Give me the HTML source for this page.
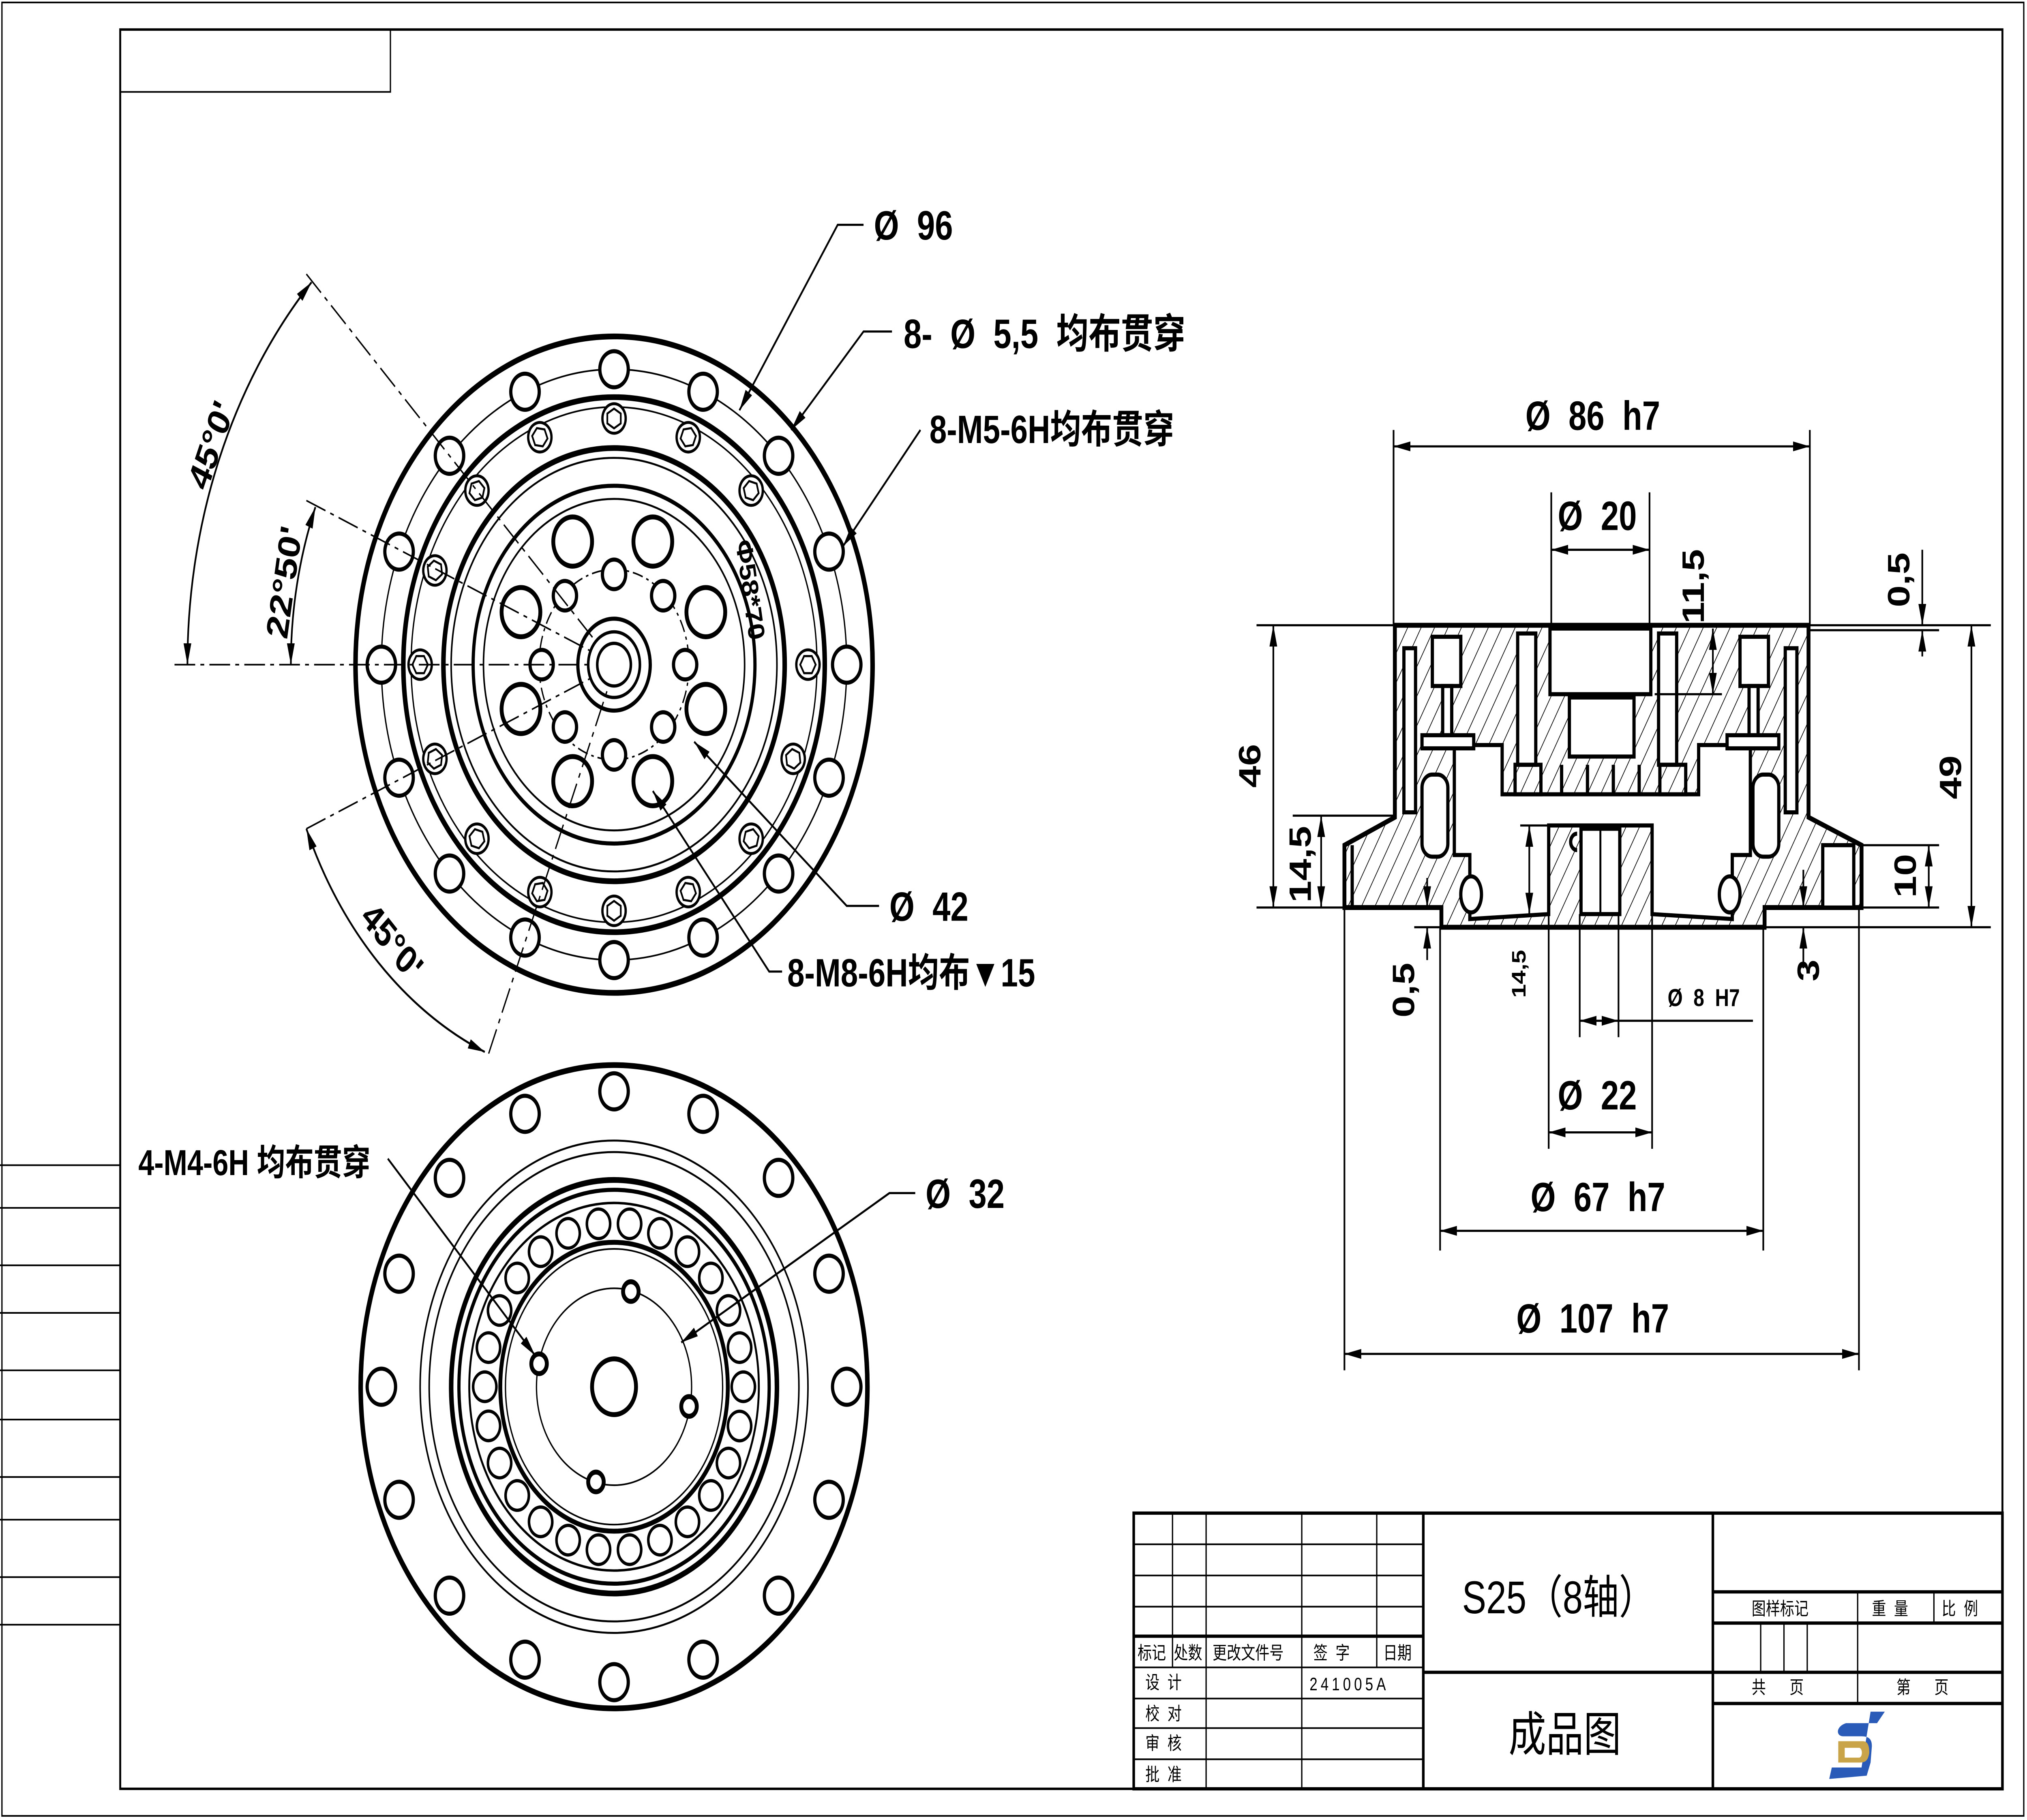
<!DOCTYPE html>
<html><head><meta charset="utf-8"><style>
html,body{margin:0;padding:0;background:#fff;width:100%;height:100%;overflow:hidden;}
svg{display:block;width:100vw;height:100vh;}
.t{font-family:"Liberation Sans","Noto Sans CJK SC",sans-serif;font-weight:bold;fill:#000;}
.c{font-family:"Liberation Sans","Noto Sans CJK SC",sans-serif;fill:#000;}
</style></head><body>
<svg xmlns="http://www.w3.org/2000/svg" viewBox="0 0 1568 1109" preserveAspectRatio="none">
<defs>
<pattern id="h" patternUnits="userSpaceOnUse" width="9" height="9" patternTransform="rotate(30)">
<line x1="0" y1="0" x2="0" y2="9" stroke="#000" stroke-width="1"/></pattern>
<marker id="a" markerUnits="userSpaceOnUse" markerWidth="14" markerHeight="8" refX="13" refY="4" orient="auto-start-reverse">
<path d="M0,1 L13,4 L0,7 Z" fill="#000"/></marker>
<g id="hole"><circle cx="655" cy="405" r="11" fill="#fff" stroke="#000" stroke-width="2.5"/></g>
<g id="hex"><circle cx="625" cy="405" r="9" fill="#fff" stroke="#000" stroke-width="1.8"/><polygon points="631,405 628,410.2 622,410.2 619,405 622,399.8 628,399.8" fill="none" stroke="#000" stroke-width="1.3"/></g>
<g id="hole2"><circle cx="655" cy="845" r="11" fill="#fff" stroke="#000" stroke-width="2.5"/></g>
<g id="ball"><circle cx="575" cy="845" r="9" fill="#fff" stroke="#000" stroke-width="2"/></g>
</defs>
<rect width="1568" height="1109" fill="#fff"/>
<rect x="1.5" y="1.5" width="1564" height="1105" fill="none" stroke="#000" stroke-width="1"/>
<rect x="93" y="18" width="1456" height="1072" fill="none" stroke="#000" stroke-width="1.5"/>
<polyline points="93,56 302,56 302,18" fill="none" stroke="#000" stroke-width="1"/>
<g stroke="#000" stroke-width="1">
<line x1="0" y1="710" x2="93" y2="710"/><line x1="0" y1="736" x2="93" y2="736"/><line x1="0" y1="771" x2="93" y2="771"/><line x1="0" y1="800" x2="93" y2="800"/><line x1="0" y1="835" x2="93" y2="835"/><line x1="0" y1="865" x2="93" y2="865"/><line x1="0" y1="900" x2="93" y2="900"/><line x1="0" y1="926" x2="93" y2="926"/><line x1="0" y1="961" x2="93" y2="961"/><line x1="0" y1="990" x2="93" y2="990"/>
</g>

<g fill="none" stroke="#000">
<circle cx="475" cy="405" r="200" stroke-width="3.5"/>
<circle cx="475" cy="405" r="180" stroke-width="1"/>
<circle cx="475" cy="405" r="163" stroke-width="3.5"/>
<circle cx="475" cy="405" r="157" stroke-width="1"/>
<circle cx="475" cy="405" r="132" stroke-width="3.5"/>
<circle cx="475" cy="405" r="126" stroke-width="1.2"/>
<circle cx="475" cy="405" r="109" stroke-width="2.5"/>
<circle cx="475" cy="405" r="101" stroke-width="1.2"/>
<circle cx="475" cy="405" r="58" stroke-width="1" stroke-dasharray="8,3,2,3"/>
<circle cx="475" cy="405" r="28" stroke-width="2.5"/>
<circle cx="475" cy="405" r="20" stroke-width="2"/>
<circle cx="475" cy="405" r="13" stroke-width="2"/>
</g>
<g>
<use href="#hole"/><use href="#hole" transform="rotate(22.5 475 405)"/><use href="#hole" transform="rotate(45 475 405)"/><use href="#hole" transform="rotate(67.5 475 405)"/><use href="#hole" transform="rotate(90 475 405)"/><use href="#hole" transform="rotate(112.5 475 405)"/><use href="#hole" transform="rotate(135 475 405)"/><use href="#hole" transform="rotate(157.5 475 405)"/><use href="#hole" transform="rotate(180 475 405)"/><use href="#hole" transform="rotate(202.5 475 405)"/><use href="#hole" transform="rotate(225 475 405)"/><use href="#hole" transform="rotate(247.5 475 405)"/><use href="#hole" transform="rotate(270 475 405)"/><use href="#hole" transform="rotate(292.5 475 405)"/><use href="#hole" transform="rotate(315 475 405)"/><use href="#hole" transform="rotate(337.5 475 405)"/>
<use href="#hex"/><use href="#hex" transform="rotate(22.5 475 405)"/><use href="#hex" transform="rotate(45 475 405)"/><use href="#hex" transform="rotate(67.5 475 405)"/><use href="#hex" transform="rotate(90 475 405)"/><use href="#hex" transform="rotate(112.5 475 405)"/><use href="#hex" transform="rotate(135 475 405)"/><use href="#hex" transform="rotate(157.5 475 405)"/><use href="#hex" transform="rotate(180 475 405)"/><use href="#hex" transform="rotate(202.5 475 405)"/><use href="#hex" transform="rotate(225 475 405)"/><use href="#hex" transform="rotate(247.5 475 405)"/><use href="#hex" transform="rotate(270 475 405)"/><use href="#hex" transform="rotate(292.5 475 405)"/><use href="#hex" transform="rotate(315 475 405)"/>
</g>
<g fill="#fff" stroke="#000" stroke-width="3">
<circle cx="443" cy="330" r="15"/><circle cx="505" cy="330" r="15"/><circle cx="403" cy="373" r="15"/><circle cx="546" cy="373" r="15"/><circle cx="403" cy="432" r="15"/><circle cx="546" cy="432" r="15"/><circle cx="443" cy="476" r="15"/><circle cx="505" cy="476" r="15"/>
</g>
<g fill="#fff" stroke="#000" stroke-width="2.5">
<circle cx="475" cy="350" r="9"/><circle cx="437" cy="363" r="9"/><circle cx="513" cy="363" r="9"/><circle cx="419" cy="405" r="9"/><circle cx="530" cy="405" r="9"/><circle cx="437" cy="443" r="9"/><circle cx="513" cy="443" r="9"/><circle cx="475" cy="460" r="9"/>
</g>
<text class="t" x="0" y="0" font-size="18" transform="translate(569,330) rotate(80)">Φ58*70</text>
<g stroke="#000" stroke-width="1" stroke-dasharray="16,4,3,4" fill="none">
<line x1="135" y1="405" x2="455" y2="405"/>
<line x1="237" y1="167" x2="460" y2="390"/>
<line x1="237" y1="305" x2="460" y2="398"/>
<line x1="237" y1="505" x2="460" y2="412"/>
<line x1="378" y1="642" x2="470" y2="420"/>
</g>
<g stroke="#000" stroke-width="1.3" fill="none">
<path d="M145,405 A330,330 0 0 1 241,172" marker-start="url(#a)" marker-end="url(#a)"/>
<path d="M225,405 A250,250 0 0 1 244,309" marker-start="url(#a)" marker-end="url(#a)"/>
<path d="M237,505 A257,257 0 0 0 375,641" marker-start="url(#a)" marker-end="url(#a)"/>
</g>
<text class="t" font-size="24" transform="translate(160,300) rotate(-67)">45°0'</text>
<text class="t" font-size="24" transform="translate(222,390) rotate(-80)">22°50'</text>
<text class="t" font-size="24" transform="translate(278,560) rotate(45)">45°0'</text>
<g stroke="#000" stroke-width="1.3" fill="none">
<polyline points="668,137 648,137 572,250" marker-end="url(#a)"/>
<polyline points="690,202 668,202 612,262" marker-end="url(#a)"/>
<line x1="712" y1="262" x2="652" y2="333" marker-end="url(#a)"/>
<polyline points="680,552 655,552 537,452" marker-end="url(#a)"/>
<polyline points="605,592 595,592 505,482" marker-end="url(#a)"/>
</g>
<text class="t" x="676" y="146" font-size="25">Ø&#160;&#160;96</text>
<text class="t" x="699" y="212" font-size="25">8-&#160;&#160;Ø&#160;&#160;5,5&#160;&#160;均布贯穿</text>
<text class="t" x="719" y="270" font-size="24">8-M5-6H均布贯穿</text>
<text class="t" x="688" y="561" font-size="25">Ø&#160;&#160;42</text>
<text class="t" x="609" y="601" font-size="24">8-M8-6H均布▼15</text>

<g fill="none" stroke="#000">
<circle cx="475" cy="845" r="196" stroke-width="3.5"/>
<circle cx="475" cy="845" r="150" stroke-width="1.2"/>
<circle cx="475" cy="845" r="143" stroke-width="1.2"/>
<circle cx="475" cy="845" r="126" stroke-width="3.5"/>
<circle cx="475" cy="845" r="120" stroke-width="2.5"/>
<circle cx="475" cy="845" r="112" stroke-width="1.5"/>
<circle cx="475" cy="845" r="88" stroke-width="3"/>
<circle cx="475" cy="845" r="84" stroke-width="1"/>
<circle cx="475" cy="845" r="60" stroke-width="1"/>
<circle cx="475" cy="845" r="17" stroke-width="3"/>
</g>
<g>
<use href="#hole2"/><use href="#hole2" transform="rotate(22.5 475 845)"/><use href="#hole2" transform="rotate(45 475 845)"/><use href="#hole2" transform="rotate(67.5 475 845)"/><use href="#hole2" transform="rotate(90 475 845)"/><use href="#hole2" transform="rotate(112.5 475 845)"/><use href="#hole2" transform="rotate(135 475 845)"/><use href="#hole2" transform="rotate(157.5 475 845)"/><use href="#hole2" transform="rotate(180 475 845)"/><use href="#hole2" transform="rotate(202.5 475 845)"/><use href="#hole2" transform="rotate(225 475 845)"/><use href="#hole2" transform="rotate(247.5 475 845)"/><use href="#hole2" transform="rotate(270 475 845)"/><use href="#hole2" transform="rotate(292.5 475 845)"/><use href="#hole2" transform="rotate(315 475 845)"/><use href="#hole2" transform="rotate(337.5 475 845)"/>
<use href="#ball"/><use href="#ball" transform="rotate(13.85 475 845)"/><use href="#ball" transform="rotate(27.7 475 845)"/><use href="#ball" transform="rotate(41.5 475 845)"/><use href="#ball" transform="rotate(55.4 475 845)"/><use href="#ball" transform="rotate(69.2 475 845)"/><use href="#ball" transform="rotate(83.1 475 845)"/><use href="#ball" transform="rotate(96.9 475 845)"/><use href="#ball" transform="rotate(110.8 475 845)"/><use href="#ball" transform="rotate(124.6 475 845)"/><use href="#ball" transform="rotate(138.5 475 845)"/><use href="#ball" transform="rotate(152.3 475 845)"/><use href="#ball" transform="rotate(166.2 475 845)"/><use href="#ball" transform="rotate(180 475 845)"/><use href="#ball" transform="rotate(193.8 475 845)"/><use href="#ball" transform="rotate(207.7 475 845)"/><use href="#ball" transform="rotate(221.5 475 845)"/><use href="#ball" transform="rotate(235.4 475 845)"/><use href="#ball" transform="rotate(249.2 475 845)"/><use href="#ball" transform="rotate(263.1 475 845)"/><use href="#ball" transform="rotate(276.9 475 845)"/><use href="#ball" transform="rotate(290.8 475 845)"/><use href="#ball" transform="rotate(304.6 475 845)"/><use href="#ball" transform="rotate(318.5 475 845)"/><use href="#ball" transform="rotate(332.3 475 845)"/><use href="#ball" transform="rotate(346.2 475 845)"/>
</g>
<g fill="#fff" stroke="#000" stroke-width="3">
<circle cx="488" cy="787" r="6"/><circle cx="417" cy="831" r="6"/><circle cx="533" cy="857" r="6"/><circle cx="461" cy="903" r="6"/>
</g>
<g stroke="#000" stroke-width="1.3" fill="none">
<line x1="300" y1="706" x2="414" y2="826" marker-end="url(#a)"/>
<polyline points="708,727 688,727 527,818" marker-end="url(#a)"/>
</g>
<text class="t" x="107" y="716" font-size="22">4-M4-6H 均布贯穿</text>
<text class="t" x="716" y="736" font-size="25">Ø&#160;&#160;32</text>

<polygon points="1079,381 1399,381 1399,498 1440,515 1440,553 1365,553 1365,565 1115,565 1115,553 1040,553 1040,515 1079,498" fill="url(#h)" stroke="#000" stroke-width="3"/>
<g fill="#fff" stroke="#000" stroke-width="2.5">
<rect x="1199" y="383" width="78" height="40"/>
<rect x="1214" y="425" width="50" height="36"/>
<polygon points="1125,454 1162,454 1162,484 1314,484 1314,454 1354,454 1354,521 1340,521 1340,560 1278,557 1278,503 1198,503 1198,557 1137,560 1137,521 1125,521"/>
<rect x="1223" y="505" width="30" height="52" />
<rect x="1086" y="395" width="9" height="100"/><rect x="1381" y="395" width="9" height="100"/>
<rect x="1108" y="388" width="22" height="30"/><rect x="1346" y="388" width="22" height="30"/>
<rect x="1116" y="418" width="7" height="30"/><rect x="1353" y="418" width="7" height="30"/>
<rect x="1100" y="448" width="40" height="8"/><rect x="1336" y="448" width="40" height="8"/>
<rect x="1174" y="386" width="14" height="80"/><rect x="1283" y="386" width="14" height="80"/>
<rect x="1410" y="515" width="24" height="38"/>
<rect x="1100" y="472" width="20" height="50" rx="8"/><rect x="1356" y="472" width="20" height="50" rx="8"/>
</g>
<g fill="none" stroke="#000" stroke-width="2.5">
<rect x="1172" y="466" width="20" height="18"/><rect x="1284" y="466" width="20" height="18"/>
<line x1="1208" y1="466" x2="1208" y2="484"/><line x1="1268" y1="466" x2="1268" y2="484"/>
<line x1="1228" y1="466" x2="1228" y2="484"/><line x1="1248" y1="466" x2="1248" y2="484"/>
<ellipse cx="1138" cy="545" rx="8" ry="11" fill="#fff"/><ellipse cx="1338" cy="545" rx="8" ry="11" fill="#fff"/>
<line x1="1046" y1="515" x2="1046" y2="553"/><line x1="1238" y1="505" x2="1238" y2="557" stroke-width="1.5"/>
<path d="M1220,508 a5,5 0 1 0 0,10"/>
</g>
<g stroke="#000" stroke-width="1.3" fill="none">
<line x1="972" y1="381" x2="1079" y2="381"/><line x1="1399" y1="381" x2="1540" y2="381"/>
<line x1="1399" y1="384" x2="1500" y2="384"/>
<line x1="972" y1="553" x2="1040" y2="553"/><line x1="1440" y1="553" x2="1500" y2="553"/>
<line x1="1365" y1="565" x2="1540" y2="565"/>
<line x1="1000" y1="497" x2="1079" y2="497"/><line x1="1440" y1="515" x2="1500" y2="515"/>
<line x1="1078" y1="262" x2="1078" y2="381"/><line x1="1400" y1="262" x2="1400" y2="381"/>
<line x1="1078" y1="272" x2="1400" y2="272" marker-start="url(#a)" marker-end="url(#a)"/>
<line x1="1200" y1="300" x2="1200" y2="383"/><line x1="1276" y1="300" x2="1276" y2="383"/>
<line x1="1200" y1="335" x2="1276" y2="335" marker-start="url(#a)" marker-end="url(#a)"/>
<line x1="1280" y1="423" x2="1332" y2="423"/>
<line x1="1325" y1="383" x2="1325" y2="423" marker-start="url(#a)" marker-end="url(#a)"/>
<line x1="1487" y1="335" x2="1487" y2="381" marker-end="url(#a)"/>
<line x1="1487" y1="400" x2="1487" y2="384" marker-end="url(#a)"/>
<line x1="985" y1="381" x2="985" y2="553" marker-start="url(#a)" marker-end="url(#a)"/>
<line x1="1525" y1="381" x2="1525" y2="565" marker-start="url(#a)" marker-end="url(#a)"/>
<line x1="1022" y1="497" x2="1022" y2="553" marker-start="url(#a)" marker-end="url(#a)"/>
<line x1="1492" y1="515" x2="1492" y2="553" marker-start="url(#a)" marker-end="url(#a)"/>
<line x1="1104" y1="535" x2="1104" y2="553" marker-end="url(#a)"/>
<line x1="1104" y1="585" x2="1104" y2="565" marker-end="url(#a)"/>
<line x1="1094" y1="553" x2="1115" y2="553"/><line x1="1094" y1="565" x2="1115" y2="565"/>
<line x1="1395" y1="530" x2="1395" y2="553" marker-end="url(#a)"/>
<line x1="1395" y1="590" x2="1395" y2="565" marker-end="url(#a)"/>
<line x1="1176" y1="503" x2="1198" y2="503"/>
<line x1="1183" y1="503" x2="1183" y2="557" marker-start="url(#a)" marker-end="url(#a)"/>
<line x1="1222" y1="557" x2="1222" y2="632"/><line x1="1252" y1="557" x2="1252" y2="632"/>
<line x1="1222" y1="622" x2="1252" y2="622" marker-start="url(#a)" marker-end="url(#a)"/>
<line x1="1252" y1="622" x2="1356" y2="622"/>
<line x1="1198" y1="557" x2="1198" y2="700"/><line x1="1278" y1="557" x2="1278" y2="700"/>
<line x1="1198" y1="690" x2="1278" y2="690" marker-start="url(#a)" marker-end="url(#a)"/>
<line x1="1114" y1="565" x2="1114" y2="762"/><line x1="1364" y1="565" x2="1364" y2="762"/>
<line x1="1114" y1="750" x2="1364" y2="750" marker-start="url(#a)" marker-end="url(#a)"/>
<line x1="1040" y1="553" x2="1040" y2="835"/><line x1="1438" y1="553" x2="1438" y2="835"/>
<line x1="1040" y1="825" x2="1438" y2="825" marker-start="url(#a)" marker-end="url(#a)"/>
</g>
<text class="t" x="1180" y="262" font-size="25">Ø&#160;&#160;86&#160;&#160;h7</text>
<text class="t" x="1205" y="323" font-size="25">Ø&#160;&#160;20</text>
<text class="t" font-size="24" transform="translate(1318,380) rotate(-90)">11,5</text>
<text class="t" font-size="24" transform="translate(1477,370) rotate(-90)">0,5</text>
<text class="t" font-size="24" transform="translate(975,480) rotate(-90)">46</text>
<text class="t" font-size="24" transform="translate(1517,487) rotate(-90)">49</text>
<text class="t" font-size="24" transform="translate(1014,550) rotate(-90)">14,5</text>
<text class="t" font-size="24" transform="translate(1482,547) rotate(-90)">10</text>
<text class="t" font-size="24" transform="translate(1094,620) rotate(-90)">0,5</text>
<text class="t" font-size="24" transform="translate(1407,598) rotate(-90)">3</text>
<text class="t" font-size="15" transform="translate(1180,608) rotate(-90)">14,5</text>
<text class="t" x="1290" y="613" font-size="15">Ø&#160;&#160;8&#160;&#160;H7</text>
<text class="t" x="1205" y="676" font-size="25">Ø&#160;&#160;22</text>
<text class="t" x="1184" y="738" font-size="25">Ø&#160;&#160;67&#160;&#160;h7</text>
<text class="t" x="1173" y="812" font-size="25">Ø&#160;&#160;107&#160;&#160;h7</text>

<g stroke="#000" fill="none">
<rect x="877" y="922" width="672" height="168" stroke-width="2"/>
<g stroke-width="1">
<line x1="877" y1="941" x2="1101" y2="941"/><line x1="877" y1="960" x2="1101" y2="960"/><line x1="877" y1="979" x2="1101" y2="979"/>
<line x1="877" y1="1016" x2="1101" y2="1016"/><line x1="877" y1="1035" x2="1101" y2="1035"/><line x1="877" y1="1053" x2="1101" y2="1053"/><line x1="877" y1="1072" x2="1101" y2="1072"/>
<line x1="907" y1="922" x2="907" y2="1016"/><line x1="933" y1="922" x2="933" y2="1090"/><line x1="1007" y1="922" x2="1007" y2="1090"/><line x1="1065" y1="922" x2="1065" y2="1016"/>
<line x1="1362" y1="989" x2="1362" y2="1019"/><line x1="1380" y1="989" x2="1380" y2="1019"/><line x1="1398" y1="989" x2="1398" y2="1019"/>
<line x1="1437" y1="970" x2="1437" y2="1038"/><line x1="1496" y1="970" x2="1496" y2="989"/>
</g>
<g stroke-width="2">
<line x1="877" y1="997" x2="1101" y2="997"/>
<line x1="1101" y1="922" x2="1101" y2="1090"/><line x1="1325" y1="922" x2="1325" y2="1090"/>
<line x1="1325" y1="970" x2="1549" y2="970"/><line x1="1325" y1="989" x2="1549" y2="989"/>
<line x1="1101" y1="1019" x2="1549" y2="1019"/><line x1="1325" y1="1038" x2="1549" y2="1038"/>
</g>
</g>
<g class="c" font-size="11">
<text x="880" y="1011">标记</text><text x="908" y="1011">处数</text><text x="938" y="1011">更改文件号</text><text x="1016" y="1011">签&#160;&#160;字</text><text x="1070" y="1011">日期</text>
<text x="886" y="1029">设&#160;&#160;计</text><text x="886" y="1048">校&#160;&#160;对</text><text x="886" y="1066">审&#160;&#160;核</text><text x="886" y="1085">批&#160;&#160;准</text>
<text x="1013" y="1030" letter-spacing="2.5">241005A</text>
<text x="1355" y="984">图样标记</text><text x="1448" y="984">重&#160;&#160;量</text><text x="1502" y="984">比&#160;&#160;例</text>
<text x="1355" y="1032">共&#160;&#160;&#160;&#160;&#160;&#160;页</text><text x="1467" y="1032">第&#160;&#160;&#160;&#160;&#160;&#160;页</text>
</g>
<text class="c" x="1131" y="983" font-size="28">S25（8轴）</text>
<text class="c" x="1167" y="1067" font-size="29">成品图</text>
<path d="M1447,1043 L1458,1043 L1452,1050 L1428,1050 C1420,1052 1420,1058 1426,1058 L1440,1058 C1446,1058 1448,1060 1448,1064 L1447,1074 L1444,1082 L1415,1084 L1417,1077 L1440,1077 Z" fill="#2a5bb8"/>
<path d="M1422,1061 L1441,1061 C1445,1061 1446,1064 1446,1068 C1445,1073 1443,1074 1438,1074 L1422,1074 Z M1427,1065 L1427,1071 L1438,1071 C1441,1071 1441,1065 1438,1065 Z" fill="#c9a448" fill-rule="evenodd"/>
</svg>
</body></html>
